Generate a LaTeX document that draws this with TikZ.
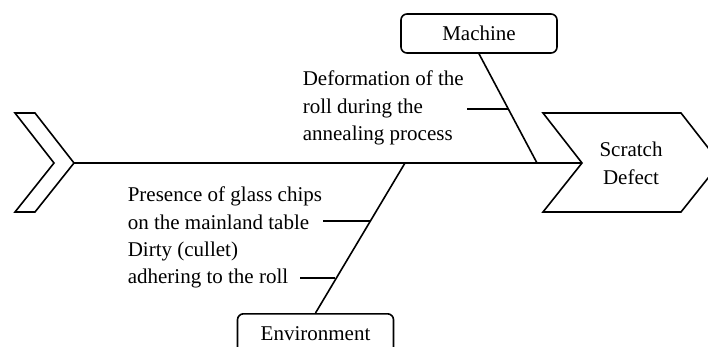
\documentclass[tikz,border=0pt]{standalone}
\usepackage{fontspec}
\setmainfont{Liberation Serif}
\begin{document}
\begin{tikzpicture}[x=1pt,y=-1pt,line width=1.6pt,line join=miter,
  catbox/.style={draw,rounded corners=6pt,minimum width=156pt,minimum height=39pt,
    inner sep=0pt,font=\fontsize{21}{24}\selectfont},
  causetext/.style={align=left,anchor=west,inner sep=0pt,
    font=\fontsize{21}{27.5}\selectfont},
  effecttext/.style={align=center,inner sep=0pt,font=\fontsize{21}{28}\selectfont}]
\useasboundingbox (0,0) rectangle (708,347);

% tail of the fish
\draw (15,113) -- (35,113) -- (74,163) -- (35,212) -- (15,212) -- (54,163) -- cycle;
\coordinate (tail) at (74,163);

% head of the fish
\draw (543,113) -- (681,113) -- (720,163) -- (681,212) -- (543,212) -- (582,163) -- cycle;
\coordinate (notch) at (582,163);
\node[effecttext] (effect) at (631,163) {Scratch\\Defect};

% spine
\draw (tail) -- (notch);

% category boxes
\node[catbox] (machine) at (479,33.5) {Machine};
\node[catbox,anchor=north] (env) at (315.5,313) {Environment};

% main bones
\coordinate (mjoin) at (537,163);
\coordinate (ejoin) at (405,163);
\draw (machine.south) -- (mjoin);
\draw (ejoin) -- (env.north);

% causes
\node[causetext] (c1) at (302,108) {Deformation of the\\roll during the\\annealing process};
\node[causetext] (c2) at (127,208) {Presence of glass chips\\on the mainland table};
\node[causetext] (c3) at (127,265) {Dirty (cullet)\\adhering to the roll};

% cause ribs
\coordinate (r1a) at (467,109);
\coordinate (r1b) at (509,109);
\coordinate (r2a) at (323,221);
\coordinate (r2b) at (370,221);
\coordinate (r3a) at (300,278);
\coordinate (r3b) at (335,278);
\draw (r1a) -- (r1b);
\draw (r2a) -- (r2b);
\draw (r3a) -- (r3b);
\end{tikzpicture}
\end{document}
